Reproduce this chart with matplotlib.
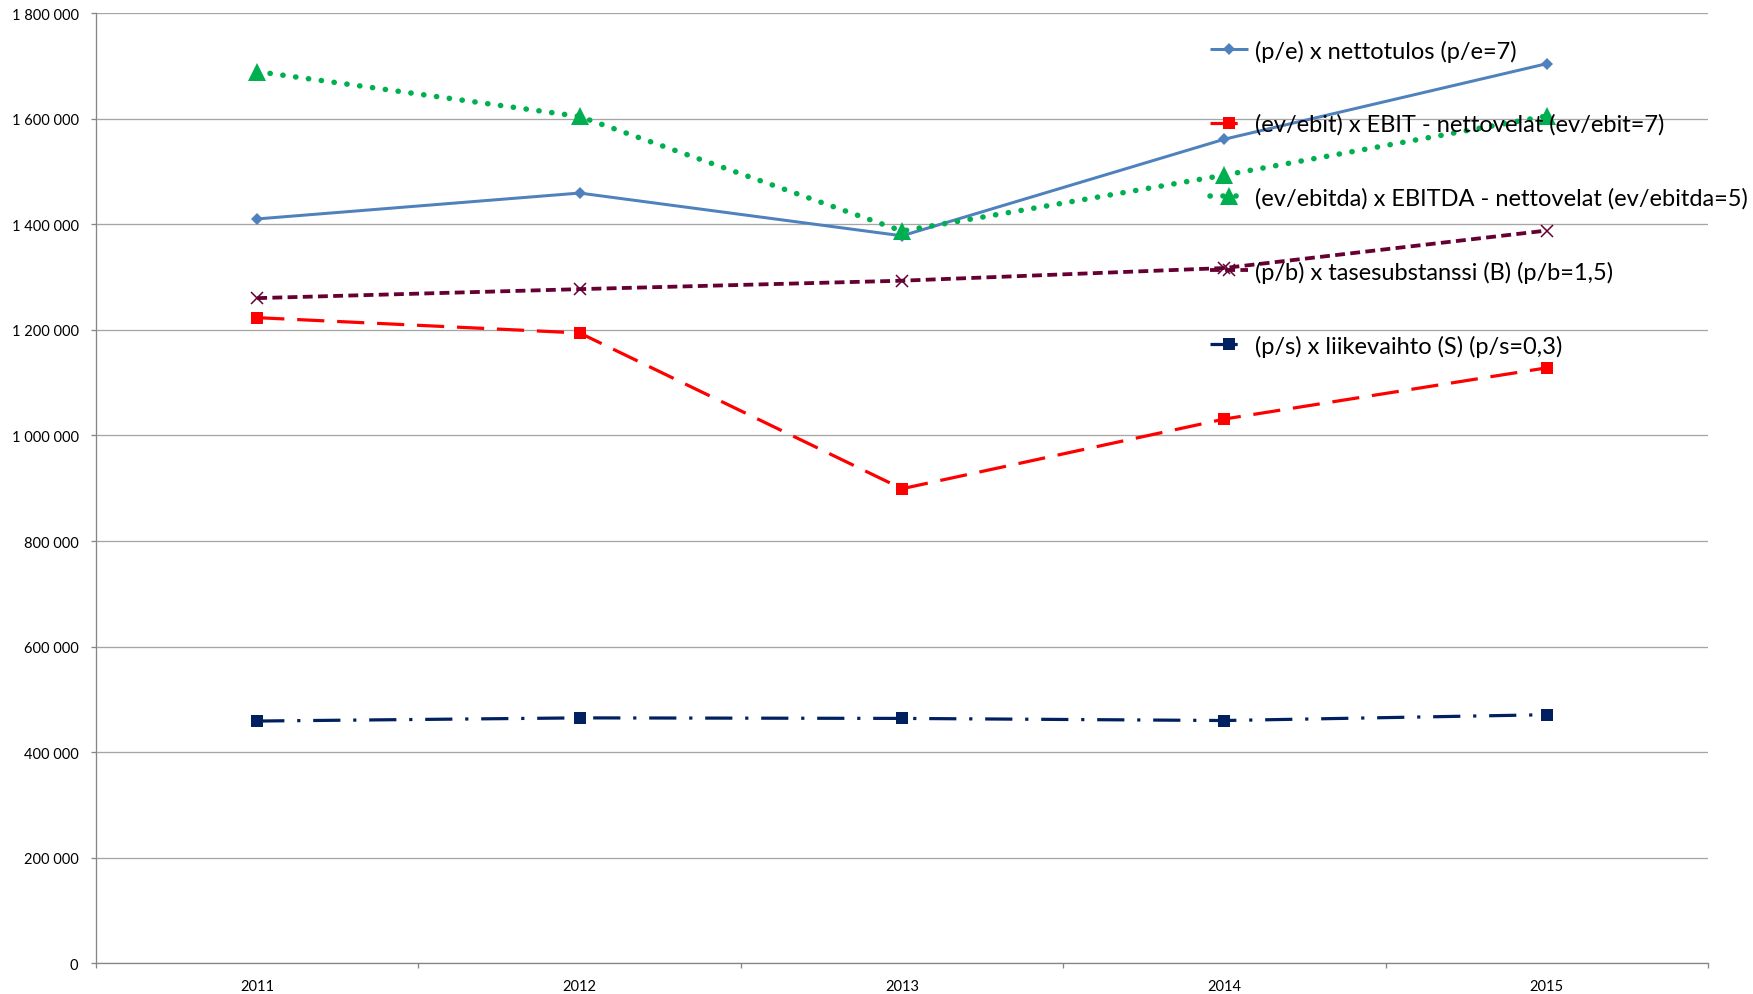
import matplotlib
matplotlib.use("Agg")
import matplotlib.pyplot as plt
from matplotlib.ticker import FuncFormatter, FixedLocator
import numpy as np

plt.rcParams['font.family'] = ['Lato', 'DejaVu Sans']

years = ["2011", "2012", "2013", "2014", "2015"]

pe_nettotulos = [1410000, 1459000, 1378000, 1561000, 1704000]
evebit_ebit = [1223000, 1194000, 899000, 1031000, 1128000]
evebitda_ebitda = [1689000, 1604000, 1387000, 1493000, 1605000]
pb_tasesubstanssi = [1260000, 1277000, 1293000, 1317000, 1388000]
ps_liikevaihto = [459000, 465000, 464000, 460000, 471000]

labels = [
    "(p/e) x nettotulos (p/e=7)",
    "(ev/ebit) x EBIT - nettovelat (ev/ebit=7)",
    "(ev/ebitda) x EBITDA - nettovelat (ev/ebitda=5)",
    "(p/b) x tasesubstanssi (B) (p/b=1,5)",
    "(p/s) x liikevaihto (S) (p/s=0,3)",
]

W, H = 1753, 995
fig = plt.figure(figsize=(W / 100, H / 100), dpi=100)
left, right, top, bottom = 96, 1708, 14, 964.4
ax = fig.add_axes([left / W, 1 - bottom / H, (right - left) / W, (bottom - top) / H])

x = np.arange(len(years))
px = 0.72  # points per pixel at 100 dpi

ax.plot(x, pe_nettotulos, color='#4F81BD', lw=3 * px, marker='D', ms=6.2,
        mew=0, label=labels[0], solid_capstyle='butt', zorder=3)
ax.plot(x, evebit_ebit, color='#FF0000', lw=3.2 * px, marker='s', ms=8.6,
        mew=0, label=labels[1], dashes=(8.5, 4.0), dash_capstyle='butt', zorder=3)
ax.plot(x, evebitda_ebitda, color='#00B050', lw=5.5 * px, marker='^', ms=13,
        mew=0, label=labels[2], dashes=(0.05, 2.3), dash_capstyle='round', zorder=3)
ax.plot(x, pb_tasesubstanssi, color='#660033', lw=3.8 * px, marker='x', ms=8.6,
        mew=1.1, label=labels[3], dashes=(2.6, 1.4), dash_capstyle='butt', zorder=3)
ax.plot(x, ps_liikevaihto, color='#002060', lw=3.2 * px, marker='s', ms=8.6,
        mew=0, label=labels[4], dashes=(8.5, 4.0, 1.0, 4.0), dash_capstyle='butt', zorder=3)

ax.set_xlim(-0.5, len(years) - 0.5)
ax.set_ylim(0, 1800000)

ax.yaxis.set_major_locator(FixedLocator(np.arange(0, 1800001, 200000)))
ax.yaxis.set_major_formatter(FuncFormatter(lambda v, p: f"{v:,.0f}".replace(",", " ")))
ax.grid(axis='y', color='#A6A6A6', lw=1.3 * px, zorder=0)
ax.set_axisbelow(True)

ax.set_xticks(x)
ax.set_xticklabels(years)
ax.set_xticks(np.arange(-0.5, len(years)), minor=True)
ax.tick_params(axis='x', which='major', length=0, pad=11, labelsize=10.5, colors='black')
ax.tick_params(axis='x', which='minor', length=5 * px, width=1.3 * px, color='#868686')
ax.tick_params(axis='y', which='major', length=5 * px, width=1.3 * px, color='#868686',
               pad=9, labelsize=10.5, labelcolor='black')

for s in ['top', 'right']:
    ax.spines[s].set_visible(False)
for s in ['left', 'bottom']:
    ax.spines[s].set_color('#868686')
    ax.spines[s].set_linewidth(1.3 * px)

leg = ax.legend(loc='upper left', bbox_to_anchor=(1210 / W, 1 - 40.5 / H),
                bbox_transform=fig.transFigure, frameon=False, fontsize=17,
                borderpad=0, borderaxespad=0, handlelength=1.6, handletextpad=0.3,
                labelspacing=2.2)

fig.savefig("out.png", dpi=100)
